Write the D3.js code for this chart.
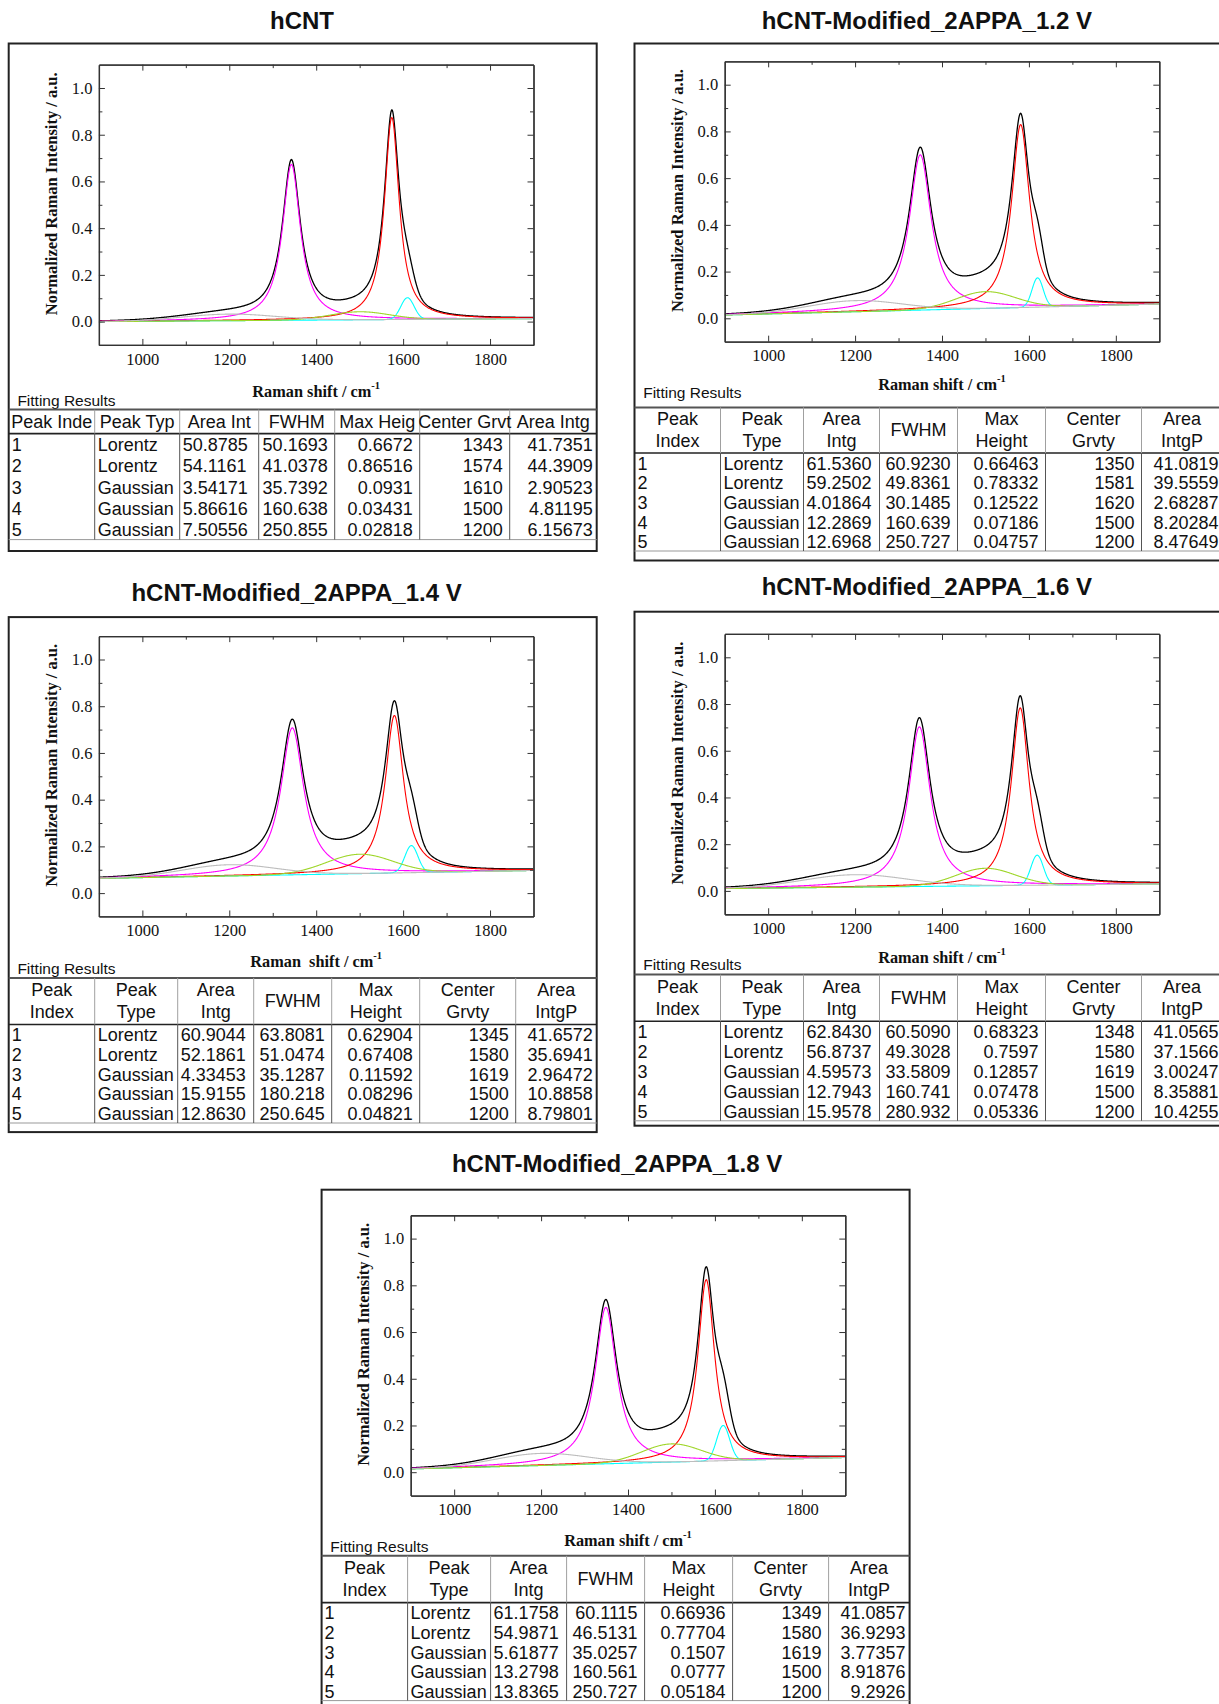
<!DOCTYPE html>
<html>
<head>
<meta charset="utf-8">
<script src="https://cdn.jsdelivr.net/npm/d3@7"></script>
<style>
  body { margin: 0; background: #fff; }
  svg text { font-family: "Liberation Sans", Arial, sans-serif; fill: #111; }
  svg text.serif { font-family: "Liberation Serif", "Times New Roman", serif; }
</style>
</head>
<body>
<div id="chart"></div>
<script>
// Fitting results, one row per panel, as printed in the tables
var panelTitles = ["hCNT", "hCNT-Modified_2APPA_1.2 V", "hCNT-Modified_2APPA_1.4 V",
  "hCNT-Modified_2APPA_1.6 V", "hCNT-Modified_2APPA_1.8 V"];
var peakIndex = ["1", "2", "3", "4", "5"];
var peakType = ["Lorentz", "Lorentz", "Gaussian", "Gaussian", "Gaussian"];
var areaIntg = [
  ["50.8785", "54.1161", "3.54171", "5.86616", "7.50556"],
  ["61.5360", "59.2502", "4.01864", "12.2869", "12.6968"],
  ["60.9044", "52.1861", "4.33453", "15.9155", "12.8630"],
  ["62.8430", "56.8737", "4.59573", "12.7943", "15.9578"],
  ["61.1758", "54.9871", "5.61877", "13.2798", "13.8365"]
];
var fwhm = [
  ["50.1693", "41.0378", "35.7392", "160.638", "250.855"],
  ["60.9230", "49.8361", "30.1485", "160.639", "250.727"],
  ["63.8081", "51.0474", "35.1287", "180.218", "250.645"],
  ["60.5090", "49.3028", "33.5809", "160.741", "280.932"],
  ["60.1115", "46.5131", "35.0257", "160.561", "250.727"]
];
var maxHeight = [
  ["0.6672", "0.86516", "0.0931", "0.03431", "0.02818"],
  ["0.66463", "0.78332", "0.12522", "0.07186", "0.04757"],
  ["0.62904", "0.67408", "0.11592", "0.08296", "0.04821"],
  ["0.68323", "0.7597", "0.12857", "0.07478", "0.05336"],
  ["0.66936", "0.77704", "0.1507", "0.0777", "0.05184"]
];
var centerGrvty = [
  ["1343", "1574", "1610", "1500", "1200"],
  ["1350", "1581", "1620", "1500", "1200"],
  ["1345", "1580", "1619", "1500", "1200"],
  ["1348", "1580", "1619", "1500", "1200"],
  ["1349", "1580", "1619", "1500", "1200"]
];
var areaIntgP = [
  ["41.7351", "44.3909", "2.90523", "4.81195", "6.15673"],
  ["41.0819", "39.5559", "2.68287", "8.20284", "8.47649"],
  ["41.6572", "35.6941", "2.96472", "10.8858", "8.79801"],
  ["41.0565", "37.1566", "3.00247", "8.35881", "10.4255"],
  ["41.0857", "36.9293", "3.77357", "8.91876", "9.2926"]
];
// linear baseline under the peaks at 900 and 1900 cm-1
var baselineStart = [0.000, 0.014, 0.063, 0.010, 0.014];
var baselineEnd = [0.013, 0.061, 0.097, 0.030, 0.063];

var shortHeaders = ["Peak Inde", "Peak Typ", "Area Int", "FWHM", "Max Heig", "Center Grvt", "Area Intg"];
var headers = [["Peak", "Index"], ["Peak", "Type"], ["Area", "Intg"], ["FWHM"], ["Max", "Height"], ["Center", "Grvty"], ["Area", "IntgP"]];
var xTitles = ["Raman shift / cm", "Raman shift / cm", "Raman  shift / cm", "Raman shift / cm", "Raman shift / cm"];
var xTicks = [1000, 1200, 1400, 1600, 1800];
var xMinor = [1100, 1300, 1500, 1700];
var yTicks = [0, 0.2, 0.4, 0.6, 0.8, 1.0];
var yMinor = [0.1, 0.3, 0.5, 0.7, 0.9];

var lineColors = ["#000000", "#ff00ff", "#ff0000", "#00ffff", "#9fd62a", "#bdbdbd"];

// where each panel sits on the page
var layout = [
  { fx: 8.7, fy: 43.5, fh: 507.5, tx: 302, ty: 20.6, px: 98.9, y1: 88, xt: 391, fr: 400, tt: 409.6, hh: 24, rh: 21.2, short: true },
  { fx: 634.5, fy: 43.5, fh: 517, tx: 926.8, ty: 20.6, px: 724.7, y1: 84.7, xt: 383.5, fr: 392.2, tt: 407.4, hh: 45.6, rh: 19.6 },
  { fx: 8.7, fy: 617.1, fh: 515, tx: 296.6, ty: 592, px: 98.9, y1: 659.5, xt: 960.5, fr: 968, tt: 977.9, hh: 46.6, rh: 19.7 },
  { fx: 634.5, fy: 611.7, fh: 514, tx: 926.8, ty: 586.7, px: 724.7, y1: 657.3, xt: 957.2, fr: 964.8, tt: 974.6, hh: 46.7, rh: 19.9 },
  { fx: 321.6, fy: 1189.7, fh: 540, tx: 617.1, ty: 1163.6, px: 410.7, y1: 1238.6, xt: 1539.6, fr: 1546, tt: 1555.8, hh: 46.8, rh: 19.6 }
];
var frameW = 588;
var plotW = 434.6;
var unitH = 233.6;
var colShort = [0, 86, 171, 250, 326, 411, 501, 588];
var colLong = [0, 86, 169, 245, 323, 411, 507, 588];

var svg = d3
  .select("#chart")
  .append("svg")
  .attr("width", 1219)
  .attr("height", 1704);

function peakValue(type, h, w, c, xv) {
  if (type == "Lorentz") {
    return h / (1 + 4 * Math.pow((xv - c) / w, 2));
  }
  return h * Math.exp(-4 * Math.LN2 * Math.pow((xv - c) / w, 2));
}

function drawPanel(p) {
  var L = layout[p];
  var g = svg.append("g");

  g.append("text")
    .attr("x", L.tx)
    .attr("y", L.ty)
    .attr("text-anchor", "middle")
    .attr("dominant-baseline", "central")
    .style("font-weight", "bold")
    .style("font-size", "24px")
    .text(panelTitles[p]);

  g.append("rect")
    .attr("x", L.fx)
    .attr("y", L.fy)
    .attr("width", frameW)
    .attr("height", L.fh)
    .attr("fill", "none")
    .attr("stroke", "#222")
    .attr("stroke-width", 2);

  var x = d3.scaleLinear().domain([900, 1900]).range([L.px, L.px + plotW]);
  var y = d3.scaleLinear().domain([-0.1, 1.1]).range([L.y1 + 1.1 * unitH, L.y1 - 0.1 * unitH]);
  var top = y(1.1), bottom = y(-0.1);

  // curves
  var clipId = "clip" + p;
  g.append("clipPath").attr("id", clipId)
    .append("rect")
    .attr("x", x(900)).attr("y", top)
    .attr("width", plotW).attr("height", bottom - top);

  var xs = d3.range(900, 1901, 1);
  function base(xv) {
    return baselineStart[p] + (baselineEnd[p] - baselineStart[p]) * (xv - 900) / 1000;
  }
  function peak(i, xv) {
    return peakValue(peakType[i], +maxHeight[p][i], +fwhm[p][i], +centerGrvty[p][i], xv);
  }
  var series = [];
  series.push(xs.map(function (xv) {
    var s = base(xv);
    for (var i = 0; i < 5; i++) s += peak(i, xv);
    return [xv, s];
  }));
  for (let i = 0; i < 5; i++) {
    series.push(xs.map(function (xv) { return [xv, base(xv) + peak(i, xv)]; }));
  }
  var line = d3.line()
    .x(function (d) { return x(d[0]); })
    .y(function (d) { return y(d[1]); });

  g.append("g")
    .attr("clip-path", "url(#" + clipId + ")")
    .selectAll("path")
    .data(series)
    .enter()
    .append("path")
    .attr("d", line)
    .attr("fill", "none")
    .attr("stroke", function (d, i) { return lineColors[i]; })
    .attr("stroke-width", function (d, i) { return i == 0 ? 1.3 : 1.1; });

  // axes, ticks pointing inward on all four sides
  var axes = g.append("g");
  function style(a) {
    a.selectAll("path").attr("stroke", "#333").attr("stroke-width", 1.3);
    a.selectAll("line").attr("stroke", "#333").attr("stroke-width", 1);
    a.selectAll("text").attr("class", "serif").style("font-size", "16.5px").attr("fill", "#111");
  }
  style(axes.append("g").attr("transform", "translate(0," + bottom + ")")
    .call(d3.axisBottom(x).tickValues(xTicks).tickSize(-6).tickSizeOuter(0).tickPadding(8).tickFormat(d3.format("d"))));
  style(axes.append("g").attr("transform", "translate(0," + bottom + ")")
    .call(d3.axisBottom(x).tickValues(xMinor).tickSize(-3.5).tickSizeOuter(0).tickFormat("")));
  style(axes.append("g").attr("transform", "translate(0," + top + ")")
    .call(d3.axisTop(x).tickValues(xTicks).tickSize(-6).tickSizeOuter(0).tickFormat("")));
  style(axes.append("g").attr("transform", "translate(0," + top + ")")
    .call(d3.axisTop(x).tickValues(xMinor).tickSize(-3.5).tickSizeOuter(0).tickFormat("")));
  style(axes.append("g").attr("transform", "translate(" + x(900) + ",0)")
    .call(d3.axisLeft(y).tickValues(yTicks).tickSize(-6).tickSizeOuter(0).tickPadding(6.5).tickFormat(d3.format(".1f"))));
  style(axes.append("g").attr("transform", "translate(" + x(900) + ",0)")
    .call(d3.axisLeft(y).tickValues(yMinor).tickSize(-3.5).tickSizeOuter(0).tickFormat("")));
  style(axes.append("g").attr("transform", "translate(" + x(1900) + ",0)")
    .call(d3.axisRight(y).tickValues(yTicks).tickSize(-6).tickSizeOuter(0).tickFormat("")));
  style(axes.append("g").attr("transform", "translate(" + x(1900) + ",0)")
    .call(d3.axisRight(y).tickValues(yMinor).tickSize(-3.5).tickSizeOuter(0).tickFormat("")));

  // axis titles
  g.append("text")
    .attr("class", "serif")
    .attr("transform", "translate(" + (L.px - 47) + "," + (y(0.5) - 11) + ")rotate(-90)")
    .attr("text-anchor", "middle")
    .attr("dominant-baseline", "central")
    .style("font-weight", "bold")
    .style("font-size", "16.5px")
    .text("Normalized Raman Intensity / a.u.");

  var xt = g.append("text")
    .attr("class", "serif")
    .attr("x", L.px + plotW / 2)
    .attr("y", L.xt)
    .attr("text-anchor", "middle")
    .attr("dominant-baseline", "central")
    .style("font-weight", "bold")
    .style("font-size", "16.3px")
    .style("white-space", "pre");
  xt.append("tspan").text(xTitles[p]);
  xt.append("tspan").attr("dy", -6).style("font-size", "10.5px").text("-1");

  g.append("text")
    .attr("x", L.fx + 8.7)
    .attr("y", L.fr)
    .attr("dominant-baseline", "central")
    .style("font-size", "15.5px")
    .text("Fitting Results");

  drawTable(g, p, L);
}

function drawTable(g, p, L) {
  var left = L.fx;
  var tTop = L.tt;
  var hb = tTop + L.hh;
  var tBottom = hb + 5 * L.rh;
  var colX = L.short ? colShort : colLong;

  g.append("line")
    .attr("x1", left).attr("x2", left + frameW)
    .attr("y1", tTop).attr("y2", tTop)
    .attr("stroke", "#555").attr("stroke-width", 2);
  g.append("line")
    .attr("x1", left).attr("x2", left + frameW)
    .attr("y1", hb).attr("y2", hb)
    .attr("stroke", "#222").attr("stroke-width", 1.6);
  g.append("line")
    .attr("x1", left).attr("x2", left + frameW)
    .attr("y1", tBottom).attr("y2", tBottom)
    .attr("stroke", "#999").attr("stroke-width", 1);

  for (let i = 1; i < 7; i++) {
    g.append("line")
      .attr("x1", left + colX[i]).attr("x2", left + colX[i])
      .attr("y1", tTop).attr("y2", hb)
      .attr("stroke", "#a0a0a0").attr("stroke-width", 1);
    g.append("line")
      .attr("x1", left + colX[i]).attr("x2", left + colX[i])
      .attr("y1", hb).attr("y2", tBottom)
      .attr("stroke", "#555").attr("stroke-width", 1);
  }

  // header
  for (let c = 0; c < 7; c++) {
    var cx = left + (colX[c] + colX[c + 1]) / 2;
    var lines = L.short ? [shortHeaders[c]] : headers[c];
    var mid = tTop + L.hh / 2;
    lines.forEach(function (txt, k) {
      g.append("text")
        .attr("x", cx)
        .attr("y", mid + (k - (lines.length - 1) / 2) * 21.6)
        .attr("text-anchor", "middle")
        .attr("dominant-baseline", "central")
        .style("font-size", "18px")
        .text(txt);
    });
  }

  var columns = [peakIndex, peakType, areaIntg[p], fwhm[p], maxHeight[p], centerGrvty[p], areaIntgP[p]];
  var anchors = ["start", "start", "start", "end", "end", "end", "end"];
  var pads = [3, 3, 3, 7, 7, 7, 4];
  for (let c = 0; c < 7; c++) {
    g.append("g")
      .selectAll("text")
      .data(columns[c])
      .enter()
      .append("text")
      .attr("x", anchors[c] == "start" ? left + colX[c] + pads[c] : left + colX[c + 1] - pads[c])
      .attr("y", function (d, r) { return hb + (r + 0.5) * L.rh + 1; })
      .attr("text-anchor", anchors[c])
      .attr("dominant-baseline", "central")
      .style("font-size", "18px")
      .text(function (d) { return d; });
  }
}

for (let p = 0; p < 5; p++) {
  drawPanel(p);
}
</script>
</body>
</html>
